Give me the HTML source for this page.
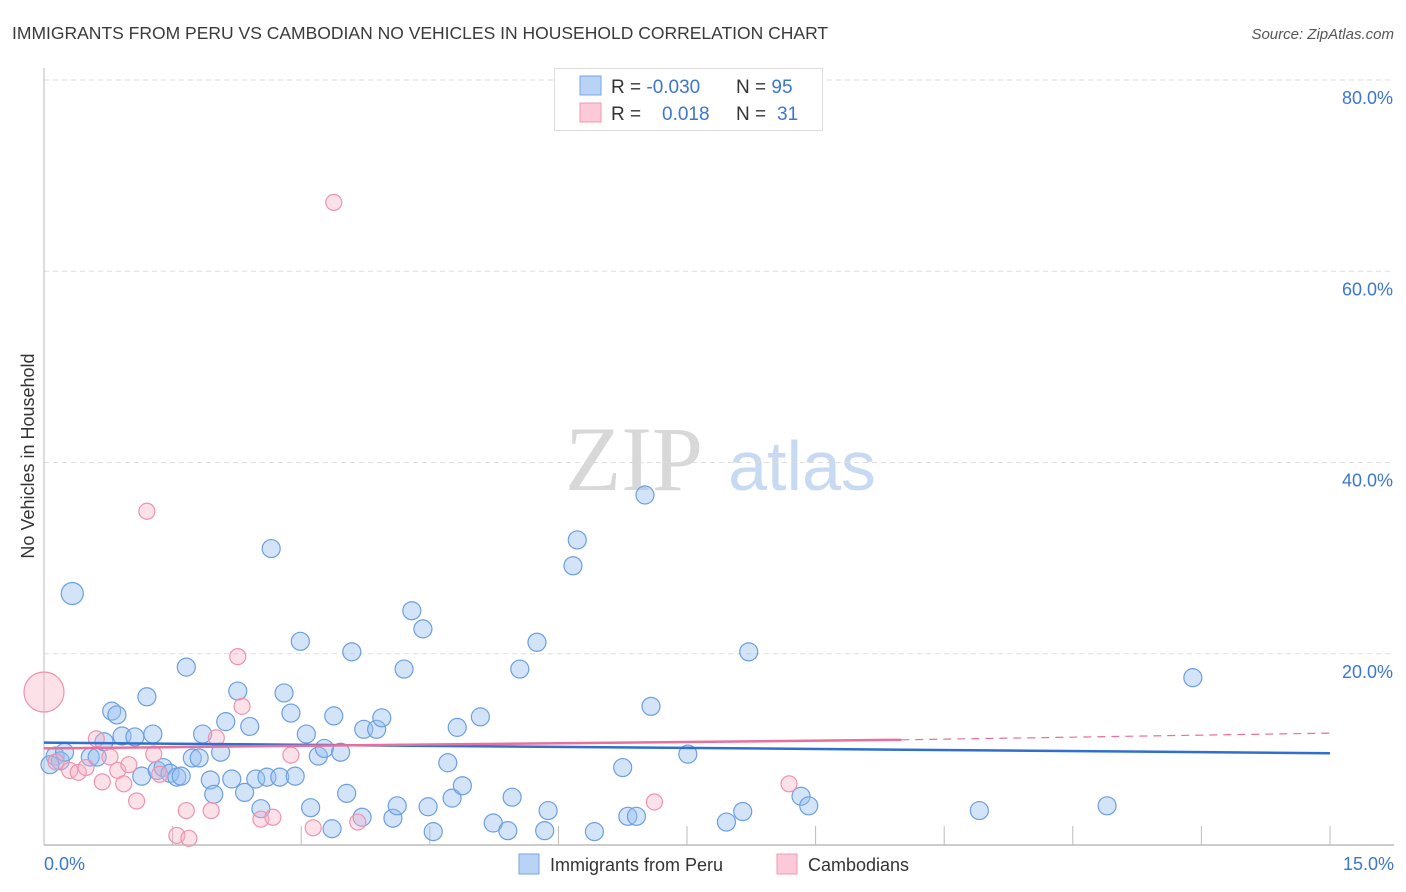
<!DOCTYPE html>
<html><head><meta charset="utf-8"><style>
body{margin:0;background:#fff;font-family:"Liberation Sans",sans-serif;}
#wrap{position:relative;width:1406px;height:892px;overflow:hidden;}
</style></head><body>
<div id="wrap">
<svg id="svg" width="1406" height="892" xmlns="http://www.w3.org/2000/svg">
<text x="12" y="39" font-size="17.5" fill="#3a3a3a">IMMIGRANTS FROM PERU VS CAMBODIAN NO VEHICLES IN HOUSEHOLD CORRELATION CHART</text>
<text x="1394" y="39" font-size="15" fill="#555" font-style="italic" text-anchor="end">Source: ZipAtlas.com</text>
<text x="34" y="456" font-size="18" fill="#333" text-anchor="middle" transform="rotate(-90 34 456)">No Vehicles in Household</text>
<g>
<text x="634" y="490" font-size="92" fill="#d8d8d8" font-family="Liberation Serif,serif" text-anchor="middle">ZIP</text>
<text x="802" y="490" font-size="70" fill="#c8daf2" text-anchor="middle">atlas</text>
</g>
<g id="grid"></g><g id="axes"></g><g id="pts"></g><g id="trend"></g>
<g>
<rect x="554.5" y="68.5" width="268" height="62" fill="#fff" stroke="#ddd"/>
<rect x="580" y="76" width="21" height="19" fill="#b8d3f5" stroke="#7aa6e3"/>
<rect x="580" y="103" width="21" height="19" fill="#fcc9d8" stroke="#ee9ab3"/>
<text x="611" y="93" font-size="19" fill="#333">R = <tspan fill="#3b76d0">-0.030</tspan></text>
<text x="736" y="93" font-size="19" fill="#333">N = <tspan fill="#3b76d0">95</tspan></text>
<text x="611" y="120" font-size="19" fill="#333">R = <tspan fill="#3b76d0" x="662">0.018</tspan></text>
<text x="736" y="120" font-size="19" fill="#333">N = <tspan fill="#3b76d0" x="777">31</tspan></text>
</g>
<g>
<rect x="519" y="854" width="20" height="20" fill="#b8d3f5" stroke="#7aa6e3"/>
<text x="550" y="871" font-size="18" fill="#333">Immigrants from Peru</text>
<rect x="777" y="854" width="20" height="20" fill="#fcc9d8" stroke="#ee9ab3"/>
<text x="808" y="871" font-size="18" fill="#333">Cambodians</text>
</g>
</svg>
</div>
<script>
const xTicksLabels=["0.0%","15.0%"];
const yTickValues=[20,40,60,80];
const yTickLabels=["20.0%","40.0%","60.0%","80.0%"];
const peruX=[0.33,0.13,0.19,0.24,0.07,0.54,0.62,0.70,0.79,0.85,0.91,1.06,1.14,1.20,1.27,1.32,1.39,1.47,1.55,1.60,1.66,1.73,1.81,1.85,1.94,1.98,2.06,2.12,2.19,2.26,2.34,2.40,2.47,2.53,2.60,2.65,2.75,2.80,2.88,2.93,2.99,3.06,3.11,3.20,3.27,3.36,3.38,3.46,3.53,3.59,3.71,3.73,3.88,3.94,4.07,4.12,4.20,4.29,4.42,4.48,4.54,4.71,4.76,4.82,4.88,5.09,5.24,5.41,5.46,5.55,5.75,5.84,5.88,6.17,6.22,6.42,6.75,6.81,6.91,7.01,7.08,7.51,7.96,8.15,8.22,8.83,8.92,10.91,12.40,13.40];
const peruY=[26.3,9.3,8.8,9.7,8.4,9.2,9.2,10.8,14.0,13.6,11.4,11.3,7.2,15.5,11.6,7.8,8.1,7.5,7.1,7.2,18.6,9.1,9.1,11.6,6.8,5.3,9.7,12.9,6.9,16.1,5.5,12.4,6.9,3.8,7.1,31.0,7.1,15.9,13.8,7.2,21.3,11.6,3.9,9.3,10.1,1.7,13.5,9.7,5.4,20.2,2.9,12.1,12.1,13.3,2.8,4.1,18.4,24.5,22.6,4.0,1.4,8.6,4.9,12.3,6.2,13.4,2.3,1.5,5.0,18.4,21.2,1.5,3.6,29.2,31.9,1.4,8.1,3.0,3.0,36.6,14.5,9.5,2.4,3.5,20.2,5.1,4.1,3.6,4.1,17.5];
const camX=[0.0,0.14,0.30,0.40,0.49,0.61,0.68,0.77,0.86,0.93,0.99,1.08,1.20,1.28,1.35,1.55,1.66,1.69,1.95,2.01,2.26,2.31,2.53,2.67,2.88,3.14,3.66,7.12,8.69,3.38];
const camY=[16.0,8.7,7.8,7.6,8.1,11.1,6.6,9.2,7.8,6.4,8.4,4.6,34.9,9.5,7.4,1.0,3.6,0.7,3.6,11.2,19.7,14.5,2.7,2.9,9.4,1.8,2.4,4.5,6.4,67.2];
const peruTrend=[10.7,9.6];
const camTrend=[10.1,11.0,11.7];
const NS="http://www.w3.org/2000/svg";
const X0=44,X1=1330,Y0=845,Y80=80;
const sx=v=>X0+(X1-X0)*v/15;
const sy=v=>Y0-(Y0-Y80)*v/80;
function mk(tag,attrs,parent){const e=document.createElementNS(NS,tag);for(const k in attrs)e.setAttribute(k,attrs[k]);document.getElementById(parent).appendChild(e);return e;}
yTickValues.forEach((v,i)=>{
 const l=mk('line',{x1:X0,x2:1394,y1:sy(v),y2:sy(v),stroke:'#ddd','stroke-dasharray':'5,4'},'grid');
 
 
 const t=mk('text',{x:1393,y:sy(v)+24,'font-size':18,fill:'#3b76d0','text-anchor':'end'},'axes');
 t.textContent=yTickLabels[i];
 
 
});
const ya=mk('line',{x1:X0,x2:X0,y1:68,y2:Y0,stroke:'#bbb'},'axes');


const xa=mk('line',{x1:X0,x2:1394,y1:Y0,y2:Y0,stroke:'#bbb','stroke-width':1.5},'axes');


for(let i=1;i<=10;i++){
 const tk=mk('line',{x1:sx(i*1.5),x2:sx(i*1.5),y1:826,y2:Y0,stroke:'#bbb'},'axes');
 
 
}
const xl0=mk('text',{x:X0,y:870,'font-size':18,fill:'#3b76d0'},'axes');xl0.textContent=xTicksLabels[0];


const xl1=mk('text',{x:1394,y:870,'font-size':18,fill:'#3b76d0','text-anchor':'end'},'axes');xl1.textContent=xTicksLabels[1];


peruX.forEach((x,i)=>{
 const c=mk('circle',{cx:sx(x),cy:sy(peruY[i]),r:i===0?11:9,fill:'rgba(150,190,240,0.42)',stroke:'#6c9fe0','stroke-width':1.2},'pts');
 
 
});
camX.forEach((x,i)=>{
 const c=mk('circle',{cx:sx(x),cy:sy(camY[i]),r:i===0?20:8,fill:'rgba(248,175,198,0.38)',stroke:'#ee93ae','stroke-width':1.2},'pts');
 
 
});
const tb=mk('line',{x1:sx(0),x2:sx(15),y1:sy(peruTrend[0]),y2:sy(peruTrend[1]),stroke:'#2f6fd0','stroke-width':2.5},'trend');


const tp=mk('line',{x1:sx(0),x2:sx(10),y1:sy(camTrend[0]),y2:sy(camTrend[1]),stroke:'#e8709a','stroke-width':2.5},'trend');


const td=mk('line',{x1:sx(10),x2:sx(15),y1:sy(camTrend[1]),y2:sy(camTrend[2]),stroke:'#e8709a','stroke-width':1.2,'stroke-dasharray':'8,6'},'trend');


</script>
</body></html>
